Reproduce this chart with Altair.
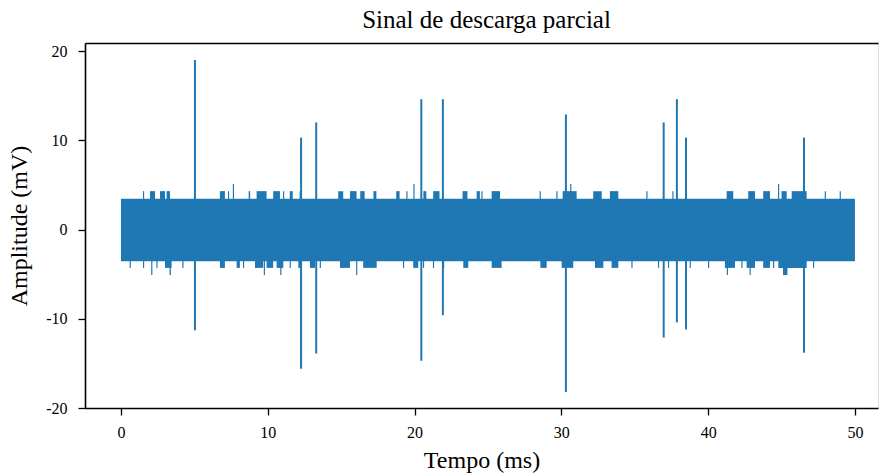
import altair as alt
import pandas as pd

# ---- data (time in ms, amplitude in mV) ----
# continuous noise band
band_t0 = [0.0]
band_t1 = [50.0]
band_lo = [-3.55]
band_hi = [3.45]

# large partial-discharge spikes
spike_t = [5.04, 12.27, 13.30, 20.46, 21.93, 30.31, 36.97, 37.87, 38.49, 46.53]
spike_hi = [19.0, 10.3, 12.0, 14.6, 14.6, 12.9, 12.0, 14.6, 10.3, 10.3]
spike_lo = [-11.3, -15.6, -13.9, -14.7, -9.6, -18.2, -12.1, -10.4, -11.2, -13.8]

# small upward excursions of the noise (start, end, peak)
up_t0 = [1.50, 1.98, 2.66, 3.11, 6.74, 7.29, 7.62, 8.70, 9.24, 10.37, 11.04, 11.50,
         12.17, 14.80, 15.60, 16.30, 17.20, 18.75, 19.44, 19.92, 20.60, 21.27, 23.27,
         24.23, 24.55, 25.25, 28.52, 29.66, 30.09, 30.60, 32.17, 33.31, 35.79, 37.56,
         41.26, 42.73, 43.75, 44.76, 45.00, 45.69, 47.94, 48.96]
up_t1 = [1.58, 2.32, 3.00, 3.34, 7.08, 7.37, 7.70, 8.80, 9.92, 10.83, 11.12, 11.70,
         12.25, 15.14, 16.05, 16.60, 17.40, 18.98, 19.52, 20.00, 20.80, 21.70, 23.60,
         24.45, 24.63, 25.82, 28.60, 29.74, 31.04, 30.68, 32.75, 33.88, 35.87, 37.64,
         41.71, 43.19, 44.21, 44.84, 45.35, 46.71, 48.02, 49.04]
up_pk = [4.3, 4.3, 4.3, 4.3, 4.3, 4.3, 5.1, 4.3, 4.3, 4.3, 4.3, 4.3,
         4.3, 4.3, 4.3, 4.3, 4.3, 4.3, 4.3, 5.1, 4.3, 4.3, 4.3,
         4.3, 4.3, 4.3, 4.3, 4.3, 4.3, 5.1, 4.3, 4.3, 4.3, 4.3,
         4.3, 4.3, 4.3, 5.1, 4.3, 4.3, 4.3, 4.3]

# small downward excursions of the noise (start, end, trough)
dn_t0 = [0.59, 1.50, 2.06, 2.41, 3.00, 3.31, 4.18, 6.74, 7.88, 8.31, 9.13, 9.73,
         9.92, 10.60, 10.85, 11.49, 12.08, 12.87, 13.54, 14.92, 16.02, 16.50, 19.21,
         19.91, 20.57, 21.25, 21.94, 23.32, 25.25, 28.57, 30.02, 32.29, 33.42, 34.77,
         36.58, 37.26, 38.74, 39.99, 41.14, 41.27, 42.26, 42.62, 42.82, 43.75, 44.42,
         44.78, 45.10, 47.14]
dn_t1 = [0.67, 1.58, 2.14, 2.49, 3.45, 3.40, 4.26, 7.08, 8.10, 8.39, 9.69, 9.81,
         10.37, 11.06, 10.93, 11.57, 12.31, 13.22, 13.62, 15.60, 16.10, 17.42, 19.29,
         20.25, 20.65, 21.33, 22.02, 23.66, 25.93, 29.00, 30.81, 32.86, 33.88, 34.85,
         36.66, 37.34, 38.82, 40.07, 41.83, 41.35, 42.34, 43.19, 42.90, 44.21, 44.50,
         46.71, 45.40, 47.22]
dn_pk = [-4.3, -4.3, -5.1, -4.3, -4.3, -5.1, -4.3, -4.3, -4.3, -4.3, -4.3, -5.1,
         -4.3, -4.3, -5.1, -4.3, -4.3, -4.3, -4.3, -4.3, -5.1, -4.3, -4.3,
         -4.3, -4.3, -4.3, -4.3, -4.3, -4.3, -4.3, -4.3, -4.3, -4.3, -4.3,
         -4.3, -4.3, -4.3, -4.3, -4.3, -5.1, -4.3, -4.3, -5.1, -4.3, -4.3,
         -4.3, -5.1, -4.3]

x_ticks = [0, 10, 20, 30, 40, 50]
y_ticks = [-20, -10, 0, 10, 20]

# ---- tables ----
band = pd.DataFrame({"t0": band_t0, "t1": band_t1, "lo": band_lo, "hi": band_hi})
spikes = pd.DataFrame({"t": spike_t, "lo": spike_lo, "hi": spike_hi})
ups = pd.DataFrame({"t0": up_t0, "t1": up_t1, "lo": [0.0] * len(up_t0), "hi": up_pk})
dns = pd.DataFrame({"t0": dn_t0, "t1": dn_t1, "lo": dn_pk, "hi": [0.0] * len(dn_t0)})

BLUE = "#1f77b4"
FONT = "Liberation Serif"

xscale = alt.Scale(domain=[-2.45, 51.57], nice=False, zero=False)
yscale = alt.Scale(domain=[-20, 20.9], nice=False, zero=False)

y_axis = alt.Axis(values=y_ticks, title="Amplitude (mV)", grid=False,
                  labelExpr="'' + datum.value", labelFont=FONT, labelFontSize=16,
                  labelColor="black", titleFont=FONT, titleFontSize=24,
                  titleFontWeight="normal", titleColor="black", titlePadding=14,
                  domainColor="black", domainWidth=1.6, tickColor="black",
                  tickWidth=1.3, tickSize=7, labelPadding=11)

x_bottom = alt.Axis(values=x_ticks, title="Tempo (ms)", grid=False, orient="bottom",
                    labelExpr="'' + datum.value", labelFont=FONT, labelFontSize=16,
                    labelColor="black", titleFont=FONT, titleFontSize=24,
                    titleFontWeight="normal", titleColor="black", titlePadding=8,
                    domainColor="black", domainWidth=1.6, tickColor="black",
                    tickWidth=1.3, tickSize=7, labelPadding=9)

x_top = alt.Axis(orient="top", title=None, labels=False, ticks=False, grid=False,
                 domain=True, domainColor="black", domainWidth=1.6)

band_layer = alt.Chart(band).mark_rect(color=BLUE).encode(
    x=alt.X("t0:Q", scale=xscale, axis=x_bottom), x2="t1:Q",
    y=alt.Y("lo:Q", scale=yscale, axis=y_axis), y2="hi:Q")

up_layer = alt.Chart(ups).mark_rect(color=BLUE).encode(
    x=alt.X("t0:Q", scale=xscale, axis=None), x2="t1:Q",
    y=alt.Y("lo:Q", scale=yscale, axis=y_axis), y2="hi:Q")

dn_layer = alt.Chart(dns).mark_rect(color=BLUE).encode(
    x=alt.X("t0:Q", scale=xscale, axis=None), x2="t1:Q",
    y=alt.Y("lo:Q", scale=yscale, axis=y_axis), y2="hi:Q")

spike_layer = alt.Chart(spikes).mark_rule(color=BLUE, strokeWidth=2).encode(
    x=alt.X("t:Q", scale=xscale, axis=x_top),
    y=alt.Y("lo:Q", scale=yscale, axis=y_axis), y2="hi:Q")

chart = alt.layer(band_layer, up_layer, dn_layer, spike_layer).resolve_axis(
    x="independent"
).properties(
    width=793, height=365,
    autosize=alt.AutoSizeParams(type="none"),
    padding={"left": 85, "top": 43, "right": 1, "bottom": 67},
    title=alt.TitleParams("Sinal de descarga parcial", font=FONT, fontSize=25,
                          fontWeight="normal", color="black", anchor="middle",
                          baseline="alphabetic", offset=14, dx=5, dy=24),
).configure_view(stroke=None).configure(background="white")

chart.save("out.html", embed_options={"renderer": "svg", "actions": False})
